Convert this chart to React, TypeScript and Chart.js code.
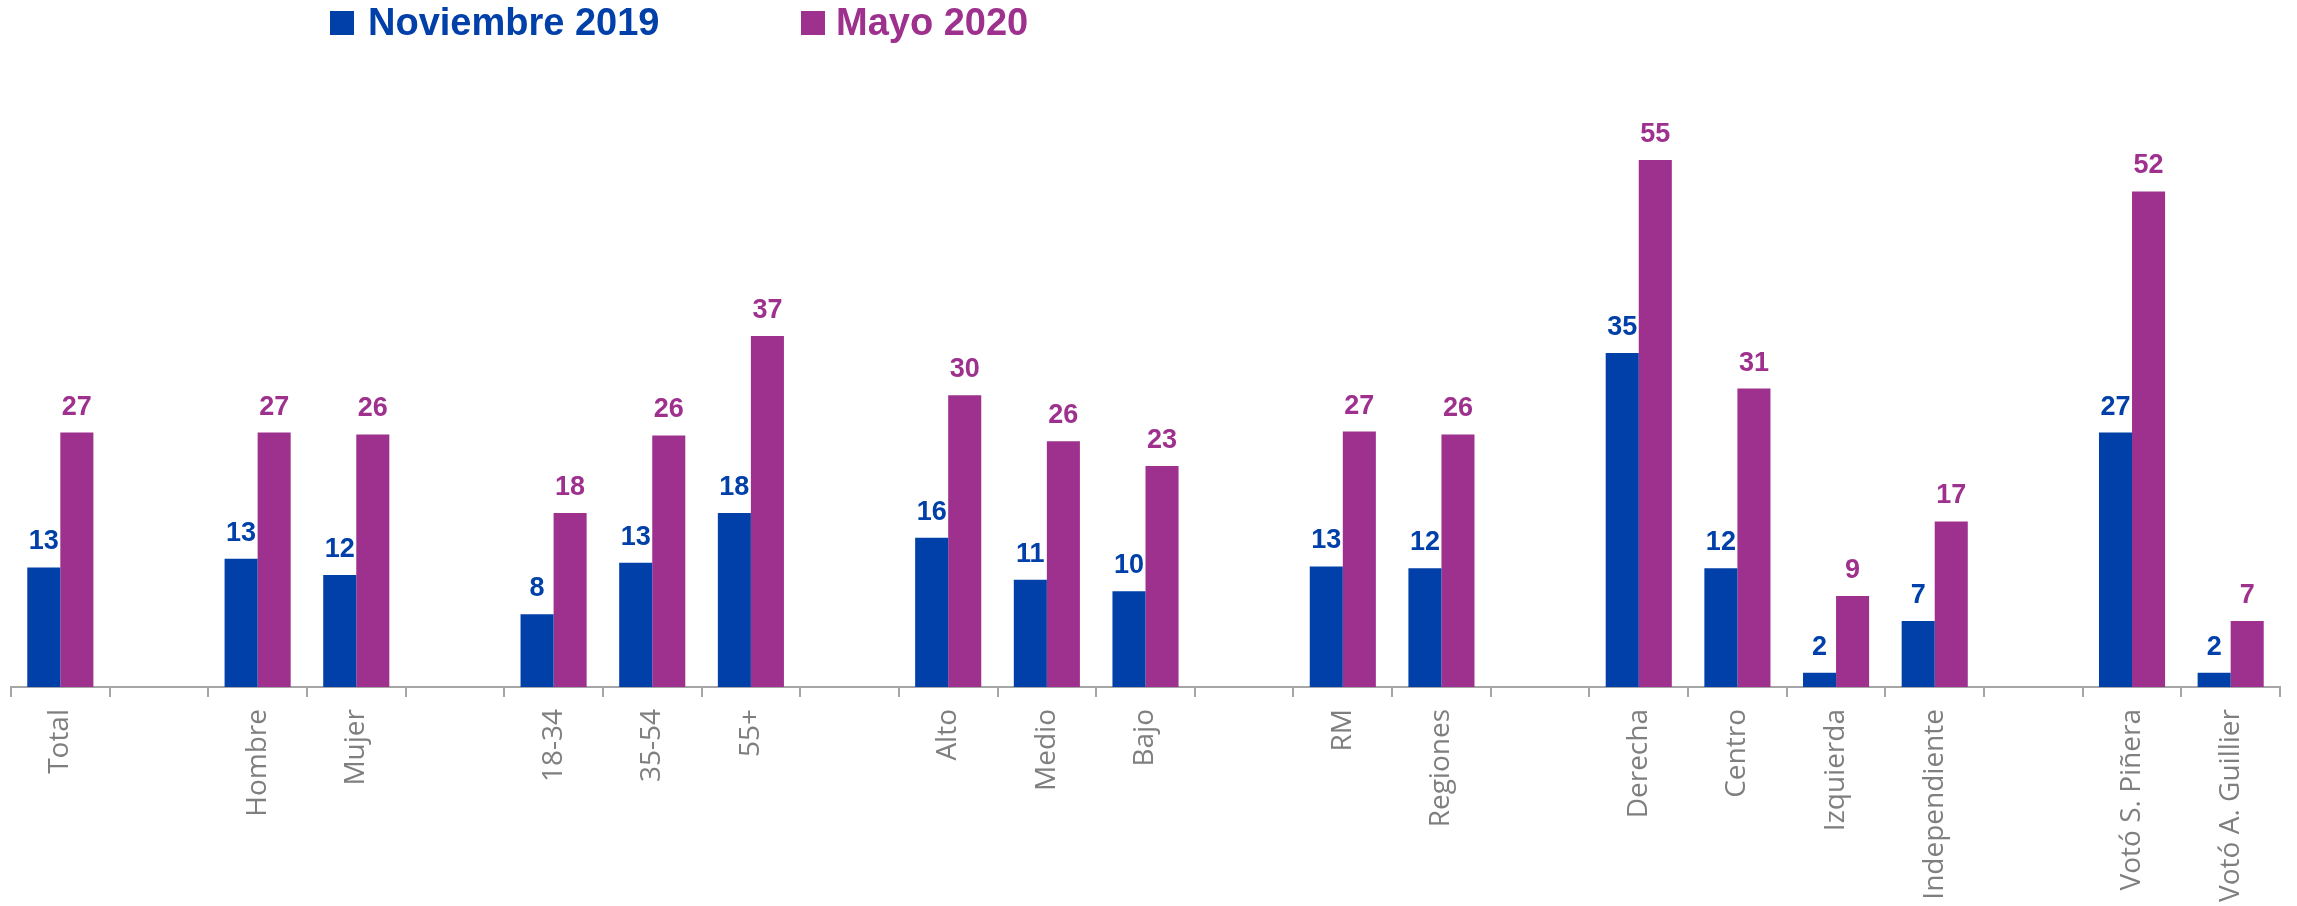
import React, { useEffect, useRef } from "react";
import { Chart, registerables } from "chart.js";

Chart.register(...registerables);

const categories = [
  "Total", "", "Hombre", "Mujer", "", "18-34", "35-54", "55+", "",
  "Alto", "Medio", "Bajo", "", "RM", "Regiones", "",
  "Derecha", "Centro", "Izquierda", "Independiente", "",
  "Votó S. Piñera", "Votó A. Guillier",
];

const seriesNames = ["Noviembre 2019", "Mayo 2020"];

// bar heights
const nov2019 = [12.5, null, 13.4, 11.7, null, 7.6, 13.0, 18.2, null, 15.6, 11.2, 10.0, null, 12.6, 12.4, null, 34.9, 12.4, 1.5, 6.9, null, 26.6, 1.5];
const mayo2020 = [26.6, null, 26.6, 26.4, null, 18.2, 26.3, 36.7, null, 30.5, 25.7, 23.1, null, 26.7, 26.4, null, 55.1, 31.2, 9.5, 17.3, null, 51.8, 6.9];

// printed value labels
const nov2019Labels = [13, null, 13, 12, null, 8, 13, 18, null, 16, 11, 10, null, 13, 12, null, 35, 12, 2, 7, null, 27, 2];
const mayo2020Labels = [27, null, 27, 26, null, 18, 26, 37, null, 30, 26, 23, null, 27, 26, null, 55, 31, 9, 17, null, 52, 7];

const yMax = 60;

const BLUE = "#0040A8";
const MAGENTA = "#9E308E";
const AXIS_GRAY = "#A6A6A6";
const LABEL_GRAY = "#7F7F7F";

const valueLabelPlugin = {
  id: "valueLabels",
  afterDatasetsDraw(chart: any) {
    const ctx = chart.ctx;
    ctx.save();
    ctx.font = "bold 27px 'Liberation Sans', Arial, sans-serif";
    ctx.textAlign = "center";
    ctx.textBaseline = "alphabetic";
    chart.data.datasets.forEach((ds: any, di: number) => {
      const meta = chart.getDatasetMeta(di);
      const labels = di === 0 ? nov2019Labels : mayo2020Labels;
      meta.data.forEach((bar: any, i: number) => {
        const v = ds.data[i];
        if (v == null || labels[i] == null) return;
        ctx.fillStyle = ds.backgroundColor;
        ctx.fillText(String(labels[i]), bar.x, bar.y - 18);
      });
    });
    ctx.restore();
  },
};

export default function App() {
  const canvasRef = useRef<HTMLCanvasElement | null>(null);

  useEffect(() => {
    if (!canvasRef.current) return;
    const chart = new Chart(canvasRef.current, {
      type: "bar",
      data: {
        labels: categories,
        datasets: [
          {
            label: seriesNames[0],
            data: nov2019,
            backgroundColor: BLUE,
            barPercentage: 1,
            categoryPercentage: 0.67,
          },
          {
            label: seriesNames[1],
            data: mayo2020,
            backgroundColor: MAGENTA,
            barPercentage: 1,
            categoryPercentage: 0.67,
          },
        ],
      },
      options: {
        responsive: false,
        animation: false,
        layout: { padding: { top: 113, left: 11, right: 17, bottom: 0 } },
        plugins: {
          legend: { display: false },
          tooltip: { enabled: false },
        },
        scales: {
          x: {
            offset: true,
            grid: {
              display: true,
              offset: true,
              drawOnChartArea: false,
              drawTicks: true,
              tickLength: 10,
              color: AXIS_GRAY,
              lineWidth: 2,
            },
            border: { display: true, color: AXIS_GRAY, width: 2 },
            ticks: {
              autoSkip: false,
              minRotation: 90,
              maxRotation: 90,
              padding: 12,
              color: LABEL_GRAY,
              font: { family: "'Open Sans', sans-serif", size: 28 },
            },
            afterFit: (scale: any) => {
              scale.height = 219;
            },
          },
          y: {
            display: false,
            min: 0,
            max: yMax,
          },
        },
      },
      plugins: [valueLabelPlugin],
    });
    return () => chart.destroy();
  }, []);

  const legendFont = "bold 38px 'Liberation Sans', Arial, sans-serif";

  return (
    <div style={{ position: "fixed", left: 0, top: 0, width: 2297, height: 906, background: "#fff" }}>
      <canvas ref={canvasRef} width={2297} height={906} style={{ position: "absolute", left: 0, top: 0, width: 2297, height: 906 }} />
      <div style={{ position: "absolute", left: 330, top: 11, width: 24, height: 24, background: BLUE }} />
      <div style={{ position: "absolute", left: 368, top: 3, font: legendFont, lineHeight: "38px", color: BLUE, whiteSpace: "nowrap" }}>
        {seriesNames[0]}
      </div>
      <div style={{ position: "absolute", left: 801, top: 11, width: 24, height: 24, background: MAGENTA }} />
      <div style={{ position: "absolute", left: 836, top: 3, font: legendFont, lineHeight: "38px", color: MAGENTA, whiteSpace: "nowrap" }}>
        {seriesNames[1]}
      </div>
    </div>
  );
}
